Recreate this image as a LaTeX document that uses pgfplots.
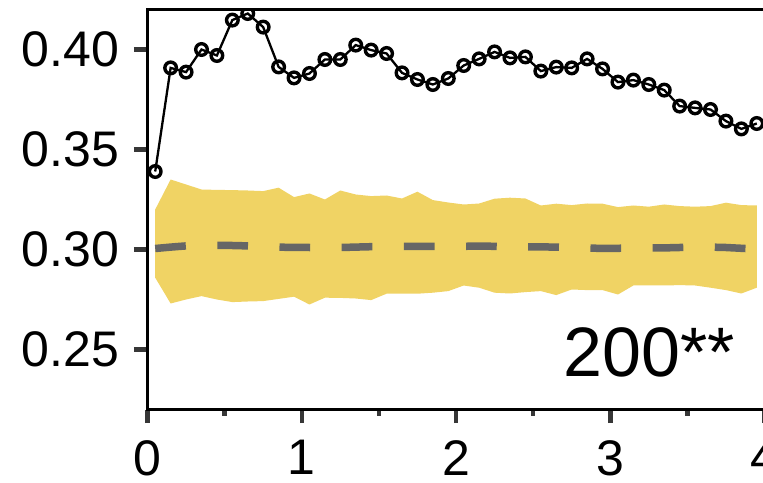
\documentclass[border=0pt]{standalone}
\usepackage{pgfplots}
\pgfplotsset{compat=1.18}
\usepackage{pgfplotstable}
\usepgfplotslibrary{fillbetween}
\usepackage{fontspec}
\setmainfont{Liberation Sans}
\definecolor{bandc}{RGB}{240,211,100}
\definecolor{meanc}{RGB}{102,102,102}
\definecolor{tickc}{RGB}{55,55,55}

\pgfplotstableread{
x y lo mean hi
0.05 0.3390 0.2859 0.3005 0.3200
0.15 0.3908 0.2730 0.3012 0.3350
0.25 0.3887 0.2750 0.3018 0.3325
0.35 0.4000 0.2767 0.3020 0.3300
0.45 0.3970 0.2750 0.3020 0.3298
0.55 0.4147 0.2737 0.3020 0.3297
0.65 0.4180 0.2740 0.3018 0.3295
0.75 0.4112 0.2742 0.3015 0.3292
0.85 0.3913 0.2753 0.3012 0.3309
0.95 0.3858 0.2764 0.3010 0.3262
1.05 0.3880 0.2725 0.3010 0.3280
1.15 0.3950 0.2759 0.3008 0.3250
1.25 0.3950 0.2758 0.3010 0.3295
1.35 0.4022 0.2755 0.3012 0.3275
1.45 0.3997 0.2747 0.3014 0.3267
1.55 0.3980 0.2779 0.3015 0.3270
1.65 0.3883 0.2780 0.3015 0.3255
1.75 0.3850 0.2779 0.3015 0.3289
1.85 0.3825 0.2784 0.3015 0.3247
1.95 0.3855 0.2792 0.3015 0.3235
2.05 0.3920 0.2820 0.3016 0.3225
2.15 0.3953 0.2809 0.3017 0.3230
2.25 0.3988 0.2784 0.3016 0.3254
2.35 0.3958 0.2780 0.3014 0.3259
2.45 0.3963 0.2787 0.3013 0.3255
2.55 0.3892 0.2792 0.3013 0.3220
2.65 0.3912 0.2772 0.3012 0.3229
2.75 0.3908 0.2800 0.3010 0.3222
2.85 0.3953 0.2797 0.3008 0.3230
2.95 0.3903 0.2797 0.3005 0.3229
3.05 0.3837 0.2775 0.3006 0.3212
3.15 0.3847 0.2820 0.3008 0.3220
3.25 0.3825 0.2820 0.3008 0.3214
3.35 0.3797 0.2820 0.3008 0.3225
3.45 0.3717 0.2822 0.3010 0.3217
3.55 0.3708 0.2820 0.3012 0.3214
3.65 0.3700 0.2809 0.3012 0.3217
3.75 0.3642 0.2797 0.3010 0.3234
3.85 0.3603 0.2780 0.3006 0.3222
3.95 0.3630 0.2809 0.3002 0.3220
}\data

\begin{document}
\begin{tikzpicture}
\begin{axis}[
  at={(0pt,0pt)}, anchor=south west,
  scale only axis, width=617pt, height=400pt,
  xmin=0, xmax=4, ymin=0.22, ymax=0.42,
  axis line style={line width=2.8pt, black},
  xtick={0,1,2,3,4}, xticklabels={0,1,2,3,4},
  minor xtick={0.5,1.5,2.5,3.5},
  ytick={0.25,0.30,0.35,0.40}, yticklabels={0.25,0.30,0.35,0.40},
  minor ytick={},
  tick align=outside, tick pos=left,
  major tick length=13.5pt, minor tick length=6pt,
  major tick style={line width=4.5pt, color=tickc},
  minor tick style={line width=4.5pt, color=tickc},
  tick label style={font=\fontsize{50}{60}\selectfont, inner sep=0pt},
  yticklabel style={anchor=east, xshift=-14.5pt},
  xticklabel style={anchor=north, yshift=-17pt},
  clip marker paths=true,
]
\addplot[name path=hi, draw=none, forget plot] table[x=x, y=hi] {\data};
\addplot[name path=lo, draw=none, forget plot] table[x=x, y=lo] {\data};
\addplot[fill=bandc, draw=none] fill between[of=hi and lo];
\addplot[meanc, line width=7.5pt, dash pattern=on 30.7pt off 31.5pt] table[x=x, y=mean] {\data};
\addplot[black, line width=2.3pt, mark=o, mark size=5.8pt,
  mark options={line width=3.4pt, fill=none, draw=black}] table[x=x, y=y] {\data};
\node[anchor=base east, inner sep=0pt, font=\fontsize{70}{84}\selectfont]
  at (rel axis cs:0.9522,0.082) {200**};
\end{axis}
\pgfresetboundingbox
\path[use as bounding box] (-147.5pt,-72.5pt) rectangle (615.5pt,409.5pt);
\end{tikzpicture}
\end{document}
